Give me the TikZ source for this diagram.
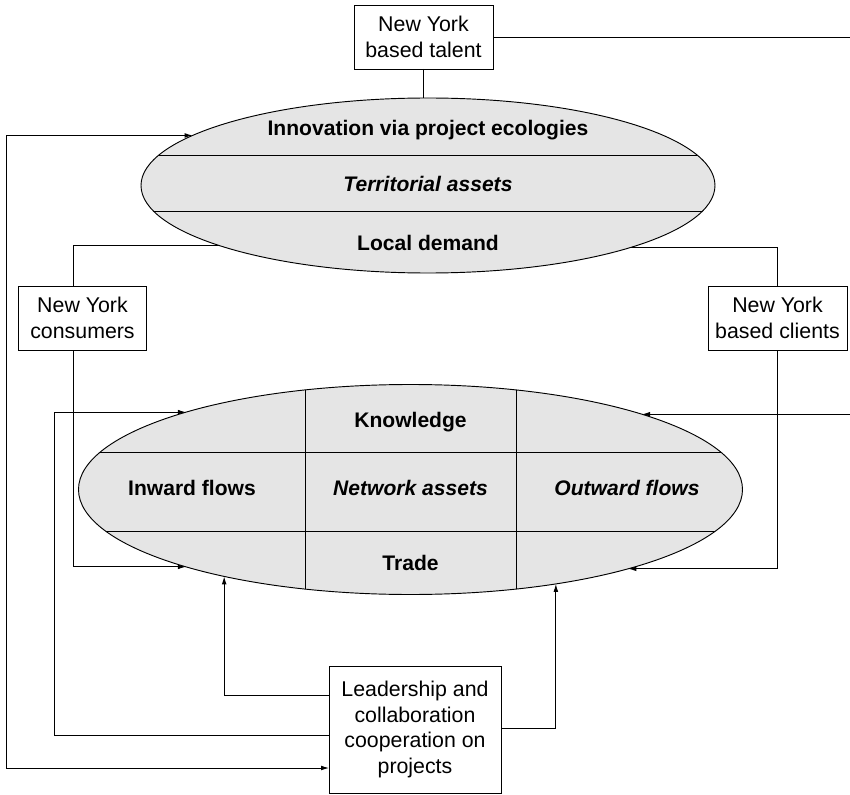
\documentclass[tikz,border=0pt]{standalone}
\usepackage{fontspec}
\setmainfont{Liberation Sans}
\usetikzlibrary{shapes.geometric,arrows.meta}

\newcommand{\boxtext}{\fontsize{16}{19.4}\selectfont}
\newcommand{\lbltext}{\fontsize{15.8}{19}\selectfont\bfseries}

\tikzset{
  nybox/.style={draw, fill=white, align=center, inner sep=0pt, outer sep=0pt, font=\boxtext},
  blob/.style={ellipse, draw, fill=black!10, inner sep=0pt, outer sep=0pt},
  lbl/.style={font=\lbltext},
}

\begin{document}
\begin{tikzpicture}[x=0.75pt,y=0.75pt,yscale=-1,xscale=1,line width=0.7pt,>={Latex[length=6pt,width=3.6pt]}]
\useasboundingbox (0,0) rectangle (850,795);

%Shape: Ellipse [territorial assets]
\node[blob, minimum width=430.5pt, minimum height=131.25pt] (topel) at (428,185.5) {};
\begin{scope}
  \clip (topel.center) ellipse [x radius=287, y radius=87.5];
  \draw (0,155) -- (850,155);
  \draw (0,211) -- (850,211);
\end{scope}

%Shape: Ellipse [network assets]
\node[blob, minimum width=498pt, minimum height=157.5pt] (netel) at (410.5,489.5) {};
\begin{scope}
  \clip (netel.center) ellipse [x radius=332, y radius=105];
  \draw (0,452) -- (850,452);
  \draw (0,531) -- (850,531);
  \draw (305,0) -- (305,795);
  \draw (516,0) -- (516,795);
\end{scope}

% Boxes
\node[nybox, minimum width=104.25pt, minimum height=48pt] (talent) at (423.5,37) {New York\\based talent};
\node[nybox, minimum width=96pt, minimum height=48pt] (cons) at (82.5,318) {New York\\consumers};
\node[nybox, minimum width=104.25pt, minimum height=48pt] (clients) at (777.5,318) {New York\\based clients};
\node[nybox, minimum width=129pt, minimum height=95.25pt] (lead) at (415,729.5) {Leadership and\\collaboration\\cooperation on\\projects};

% Text Node
\node[lbl] (innov) at (428,130) {Innovation via project ecologies};
% Text Node
\node[lbl] (terr) at (428,184) {\itshape Territorial assets};
% Text Node
\node[lbl] (local) at (428,243) {Local demand};
% Text Node
\node[lbl] (know) at (410.5,422) {Knowledge};
% Text Node
\node[lbl] (inward) at (192,488) {Inward flows};
% Text Node
\node[lbl] (netass) at (410.5,488) {\itshape Network assets};
% Text Node
\node[lbl] (outward) at (627,488) {\itshape Outward flows};
% Text Node
\node[lbl] (trade) at (410.5,563) {Trade};

% bend points of the loops
\coordinate (offright) at (858,37);
\coordinate (outerloop) at (6.5,768);
\coordinate (innerloop) at (54,735);
\coordinate (conx) at (73,318);
\coordinate (leftfoot) at (225,695);
\coordinate (rightfoot) at (556,728);

%Straight Lines
\draw (talent.south) -- (talent.south |- topel.north);
\draw[->] (talent.east) -- (offright) |- (netel.18.59);

\draw[<->] (topel.168.85) -| (outerloop) -- (lead.west |- outerloop);
\draw[->] (lead.west |- innerloop) -- (innerloop) |- (netel.161.41);

\draw (topel.196.77) -| (cons.north -| conx);
\draw[->] (cons.south -| conx) |- (netel.199.08);
\draw (topel.343.23) -| (clients.north);
\draw[->] (clients.south) |- (netel.340.92);

\draw[->] (lead.west |- leftfoot) -| (netel.205.15);
\draw[->] (lead.east |- rightfoot) -| (netel.327.03);
\end{tikzpicture}
\end{document}
